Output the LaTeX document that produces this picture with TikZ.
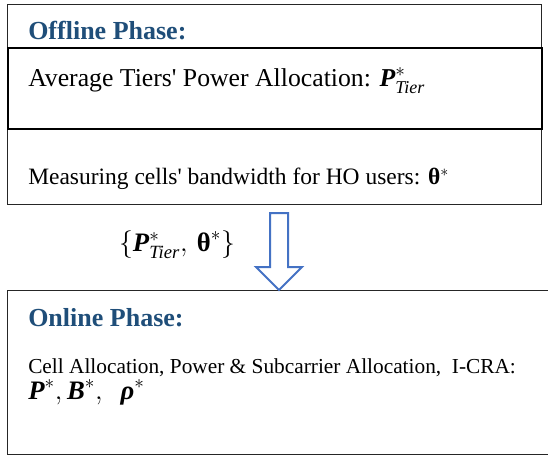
\documentclass[tikz,border=0pt]{standalone}
\usepackage{fontspec}
\setmainfont{Liberation Serif}
\usepackage{amsmath}
\definecolor{titleblue}{HTML}{1F4E79}
\definecolor{arrowblue}{HTML}{4472C4}
\newcommand{\myunit}{0.75pt}
\newcommand{\Ptier}{$\textbf{\textit{P}}^{*}_{\textit{Tier}}$}
\tikzset{
    box style outer/.style={draw=black!85,line width=0.9pt,anchor=north west,inner sep=0pt},
    box style inner/.style={draw=black,line width=1.6pt,anchor=north west,inner sep=0pt},
    text style title/.style={anchor=west,inner sep=0pt,text=titleblue,font=\fontsize{19.5}{23}\selectfont\bfseries},
    text style body/.style={anchor=west,inner sep=0pt},
    arrow style block/.style={draw=arrowblue,line width=1.5pt,fill=white,line join=miter},
}

\begin{document}
\begin{tikzpicture}[x=\myunit,y=-\myunit]
\useasboundingbox (0,0) rectangle (548,456);
% les cadres
\node [box style outer,minimum width=534*\myunit,minimum height=200*\myunit] (offline) at (7,4) {};
\node [box style inner,minimum width=534*\myunit,minimum height=81*\myunit] (tier) at (7,47) {};
\node [box style outer,minimum width=545*\myunit,minimum height=164*\myunit] (online) at (7,290) {};
% les textes
\node [text style title] (offtitle) at (28,31) {Offline Phase:};
\node [text style body,font=\fontsize{19.3}{23}\selectfont] (avg) at (28,81)
    {Average Tiers\textquotesingle{} Power Allocation: \Ptier};
\node [text style body,font=\fontsize{17.6}{21}\selectfont] (hobw) at (28,179)
    {Measuring cells\textquotesingle{} bandwidth for HO users: \textbf{θ}$^{*}$};
\node [text style title] (ontitle) at (28,318) {Online Phase:};
\node [text style body,anchor=base west,font=\fontsize{16}{19}\selectfont] (icra) at (28,373)
    {Cell Allocation, Power \& Subcarrier Allocation,\ \ I-CRA:};
\node [text style body,anchor=base west,font=\fontsize{20}{24}\selectfont] (res) at (28,399)
    {$\textbf{\textit{P}}^{*},\textbf{\textit{B}}^{*},\ \ \textbf{\textit{ρ}}^{*}$};
\node [font=\fontsize{20}{24}\selectfont] (feed) at (177,245)
    {$\{\textbf{\textit{P}}^{*}_{\textit{Tier}},\,\textbf{θ}^{*}\}$};
% la fleche
\coordinate (tip) at (online.north -| 279,0);
\draw [arrow style block] (tip) -- ++(23,-23) -- ++(-14,0) -- ++(0,-54)
    -- ++(-18,0) -- ++(0,54) -- ++(-14,0) -- cycle;
\end{tikzpicture}
\end{document}
